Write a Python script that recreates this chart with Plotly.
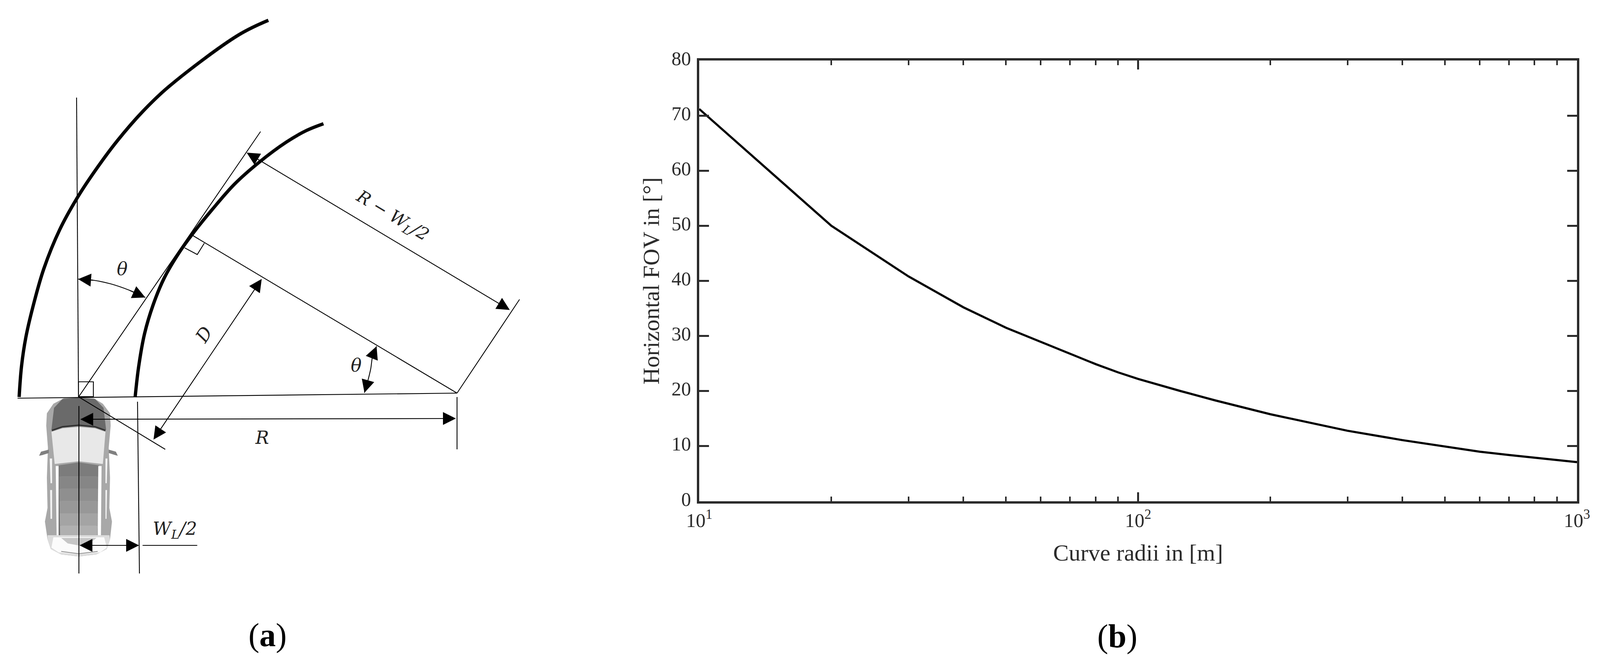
import plotly.graph_objects as go

W, H = 4099, 1706
PAD = 8  # the page keeps this much body margin around the figure
INK = '#2b2b2b'
SERIF = 'Liberation Serif'
MATH = 'DejaVu Serif'
FIG_W, FIG_H = W - 2 * PAD, H - 2 * PAD

# panel b values
radii = [10, 20, 30, 40, 50, 60, 70, 80, 90, 100, 125, 150, 200, 250, 300, 400, 500, 600, 700, 800, 900, 1000]
fov = [71.2, 50.0, 40.8, 35.2, 31.5, 28.9, 26.7, 24.9, 23.4, 22.2, 20.0, 18.3, 15.8, 14.1, 12.8, 11.1, 9.9, 9.0, 8.4, 7.9, 7.5, 7.1]
y_ticks = [0, 10, 20, 30, 40, 50, 60, 70, 80]
x_ticks = [10, 100, 1000]
x_labels = ['10<sup>1</sup>', '10<sup>2</sup>', '10<sup>3</sup>']
minor_ticks = [20, 30, 40, 50, 60, 70, 80, 90, 200, 300, 400, 500, 600, 700, 800, 900]

outer_x = [49, 55, 66, 84, 112, 153, 200, 250, 300, 365, 432, 610, 687]
outer_y = [1017, 939, 865, 787, 689, 588, 503, 428, 361, 286, 222, 90, 52]
inner_x = [346, 355, 370, 392, 420, 460, 500, 543, 600, 663, 733, 783, 828]
inner_y = [1017, 939, 855, 781, 713, 645, 590, 537, 472, 416, 364, 335, 317]

thin_lines = {
    'upright': ([196, 201], [250, 1017]),
    'tangent': ([201, 667], [1017, 337]),
    'radius': ([493, 1170], [603, 1007]),
    'base': ([45, 1170], [1020, 1007]),
    'far end': ([1170, 1330], [1007, 767]),
    'far tick': ([1170, 1170], [1017, 1151]),
    'perpendicular': ([202, 423], [1017, 1151]),
    'car axis': ([202, 202], [1040, 1469]),
    'lane': ([352, 357], [1029, 1469]),
    'lane leader': ([365, 505], [1397, 1397]),
    'corner box': ([201, 239, 239, 201, 201], [978, 978, 1016, 1016, 978]),
    'radius box': ([473, 505, 523], [635, 652, 623]),
}
upper_arc_x = [200, 240, 283, 330, 372]
upper_arc_y = [715, 718, 727, 743, 762]
lower_arc_x = [964, 954, 949, 941, 933]
lower_arc_y = [887, 912, 945, 978, 1006]
arrows = [
    (630, 390, 1305, 794),
    (671, 713, 393, 1126),
    (204, 1074, 1167, 1072),
    (202, 1397, 356, 1397),
]


def car_x(v):
    return [50 + p / 3 for p in v]


def car_y(v):
    return [950 + p / 2.85 for p in v]


car_parts = [
    ('#a8a8a8', [455, 340, 260, 210, 205, 218, 210, 215, 195, 215, 240, 320, 455, 590, 670, 695, 710, 690, 695, 685, 700, 695, 640, 570],
     [195, 200, 240, 310, 400, 560, 780, 1000, 1100, 1230, 1300, 1340, 1355, 1340, 1300, 1230, 1100, 1000, 780, 560, 400, 310, 240, 200]),
    ('#f4f4f4', [232, 250, 250, 238], [640, 640, 820, 820]),
    ('#f4f4f4', [660, 675, 670, 660], [640, 640, 820, 820]),
    ('#f4f4f4', [235, 250, 250, 238], [870, 870, 1080, 1080]),
    ('#f4f4f4', [660, 672, 668, 660], [870, 870, 1080, 1080]),
    ('#6a6a6a', [455, 330, 265, 245, 330, 455, 580, 665, 645, 580], [195, 205, 270, 430, 405, 395, 405, 430, 270, 205]),
    ('#808080', [150, 165, 225, 225, 175], [620, 590, 575, 600, 615]),
    ('#808080', [755, 740, 685, 685, 735], [620, 590, 575, 600, 615]),
    ('#e8e8e8', [245, 330, 455, 580, 660, 640, 455, 270], [445, 420, 410, 420, 445, 680, 660, 680]),
    ('#6e6e6e', [300, 320, 320, 300], [690, 690, 1215, 1215]),
    ('#6e6e6e', [590, 610, 610, 590], [690, 690, 1215, 1215]),
    ('#7c7c7c', [300, 455, 610, 608, 302], [690, 668, 690, 770, 770]),
    ('#868686', [302, 608, 606, 304], [770, 770, 860, 860]),
    ('#8f8f8f', [304, 606, 604, 306], [860, 860, 950, 950]),
    ('#989898', [306, 604, 602, 308], [950, 950, 1040, 1040]),
    ('#a4a4a4', [308, 602, 600, 310], [1040, 1040, 1130, 1130]),
    ('#b0b0b0', [310, 600, 597, 312], [1130, 1130, 1215, 1215]),
    ('#ffffff', [278, 300, 300, 285], [695, 695, 1215, 1215]),
    ('#ffffff', [605, 630, 625, 600], [695, 695, 1215, 1215]),
    ('#dcdcdc', [215, 240, 320, 455, 590, 670, 695, 690, 215], [1230, 1300, 1340, 1355, 1340, 1300, 1230, 1200, 1200]),
    ('#fbfbfb', [260, 650, 670, 620, 455, 300, 245], [1215, 1215, 1290, 1325, 1340, 1325, 1290]),
    ('#c6c6c6', [320, 590, 540, 455, 370], [1220, 1220, 1260, 1275, 1260]),
]

fig = go.Figure()

# panel b
fig.add_trace(go.Scatter(x=radii, y=fov, mode='lines', line=dict(color='black', width=5.5),
                         xaxis='x', yaxis='y', showlegend=False, hoverinfo='skip', cliponaxis=False))

# panel a, drawn on a second pair of axes that runs in picture pixels
for color, xs, ys in car_parts:
    fig.add_trace(go.Scatter(x=car_x(xs), y=car_y(ys), mode='lines', fill='toself', fillcolor=color,
                             line=dict(width=0, color=color), xaxis='x2', yaxis='y2',
                             showlegend=False, hoverinfo='skip'))
# dark strip under the hood and rear bumper edge
fig.add_trace(go.Scatter(x=car_x([248, 330, 455, 580, 660]), y=car_y([435, 408, 397, 408, 435]), mode='lines',
                         line=dict(color='#333333', width=4), xaxis='x2', yaxis='y2',
                         showlegend=False, hoverinfo='skip'))
fig.add_trace(go.Scatter(x=car_x([320, 455, 600]), y=car_y([1318, 1335, 1318]), mode='lines',
                         line=dict(color='#8c8c8c', width=2), xaxis='x2', yaxis='y2',
                         showlegend=False, hoverinfo='skip'))

for name, (xs, ys) in thin_lines.items():
    fig.add_trace(go.Scatter(x=xs, y=ys, mode='lines', line=dict(color='black', width=2.2), name=name,
                             xaxis='x2', yaxis='y2', showlegend=False, hoverinfo='skip'))
for xs, ys in [(upper_arc_x, upper_arc_y), (lower_arc_x, lower_arc_y)]:
    fig.add_trace(go.Scatter(x=xs, y=ys, mode='lines', line=dict(color='black', width=2.2, shape='spline'),
                             xaxis='x2', yaxis='y2', showlegend=False, hoverinfo='skip'))
for xs, ys in [(outer_x, outer_y), (inner_x, inner_y)]:
    fig.add_trace(go.Scatter(x=xs, y=ys, mode='lines', line=dict(color='black', width=8.5, shape='spline'),
                             xaxis='x2', yaxis='y2', showlegend=False, hoverinfo='skip'))


def add_arrow(x0, y0, x1, y1, side='end+start'):
    fig.add_annotation(x=x1, y=y1, ax=x0, ay=y0, xref='x2', yref='y2', axref='x2', ayref='y2', text='',
                       showarrow=True, arrowside=side, arrowhead=2, arrowsize=3, arrowwidth=2.2,
                       arrowcolor='black')


for a in arrows:
    add_arrow(*a)
add_arrow(upper_arc_x[1], upper_arc_y[1], upper_arc_x[0], upper_arc_y[0], 'end')
add_arrow(upper_arc_x[-2], upper_arc_y[-2], upper_arc_x[-1], upper_arc_y[-1], 'end')
add_arrow(lower_arc_x[1], lower_arc_y[1], lower_arc_x[0], lower_arc_y[0], 'end')
add_arrow(lower_arc_x[-2], lower_arc_y[-2], lower_arc_x[-1], lower_arc_y[-1], 'end')


def add_label(x, y, text, size=46, angle=0, family=MATH, color='#222222'):
    fig.add_annotation(x=x, y=y, xref='x2', yref='y2', text=text, showarrow=False, textangle=angle,
                       font=dict(family=family, size=size, color=color), xanchor='center', yanchor='middle')


add_label(313, 689, '<i>θ</i>')
add_label(912, 936, '<i>θ</i>')
add_label(671, 1121, '<i>R</i>')
add_label(522, 857, '<i>D</i>', angle=-57)
add_label(1004, 553, '<i>R − W<sub>L</sub>/2</i>', size=44, angle=31)
add_label(447, 1357, '<i>W<sub>L</sub>/2</i>')
add_label(685, 1627, '(<b>a</b>)', size=84, family=SERIF, color='black')
fig.add_annotation(x=(2860 - PAD) / FIG_W, y=1 - (1630 - PAD) / FIG_H, xref='paper', yref='paper',
                   text='(<b>b</b>)', showarrow=False,
                   font=dict(family=SERIF, size=84, color='black'), xanchor='center', yanchor='middle')

axis_style = dict(showgrid=False, zeroline=False, showline=True, linecolor=INK, linewidth=6, mirror='allticks',
                  ticks='inside', tickcolor=INK, tickwidth=5, automargin=False,
                  tickfont=dict(family=SERIF, size=50, color=INK))

fig.update_layout(
    width=FIG_W, height=FIG_H, autosize=False,
    margin=dict(l=0, r=0, t=0, b=0, pad=0),
    paper_bgcolor='white', plot_bgcolor='rgba(0,0,0,0)',
    showlegend=False,
    xaxis=dict(type='log', range=[1, 3], domain=[(1790 - PAD) / FIG_W, (4037 - PAD) / FIG_W], anchor='y',
               tickmode='array', tickvals=x_ticks, ticktext=x_labels, ticklen=23,
               minor=dict(tickmode='array', tickvals=minor_ticks, ticks='inside', ticklen=12,
                          tickwidth=4, tickcolor=INK, showgrid=False),
               title=dict(text='Curve radii in [m]', standoff=36,
                          font=dict(family=SERIF, size=60, color=INK)),
               **axis_style),
    yaxis=dict(range=[0, 80], domain=[1 - (1284 - PAD) / FIG_H, 1 - (155 - PAD) / FIG_H], anchor='x',
               tickmode='array', tickvals=y_ticks, ticklen=25, ticklabelstandoff=5, ticklabelshift=-6,
               title=dict(text='Horizontal FOV in [°]', standoff=14,
                          font=dict(family=SERIF, size=60, color=INK)),
               **axis_style),
    xaxis2=dict(range=[PAD, 1600], domain=[0, (1600 - PAD) / FIG_W], anchor='y2', visible=False, fixedrange=True),
    yaxis2=dict(range=[H - PAD, PAD], domain=[0, 1], anchor='x2', visible=False, fixedrange=True),
)

fig.write_html('out.html')
